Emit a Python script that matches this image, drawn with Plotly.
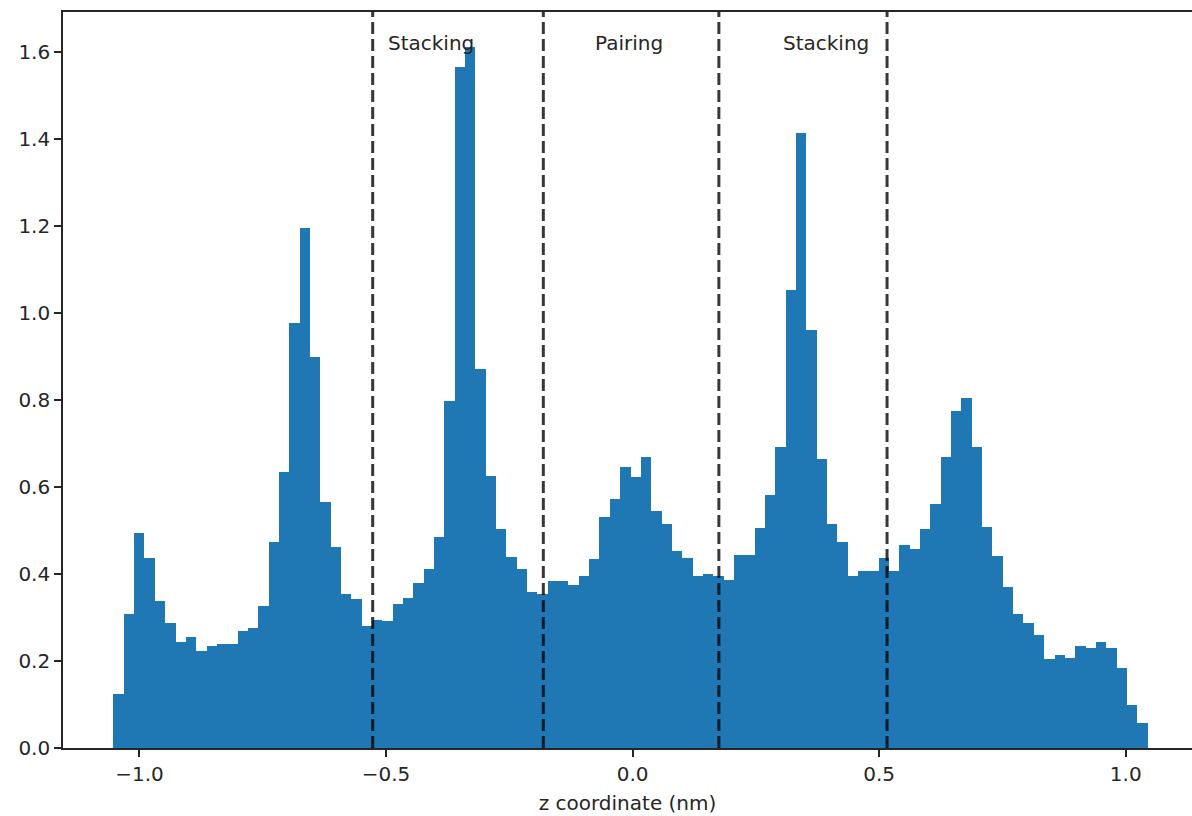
import numpy as np
import plotly.graph_objects as go

# Histogram data (density), 100 equal-width bins
bin_start = -1.0527
bin_width = 0.02097
density = [
    0.125, 0.307, 0.494, 0.437, 0.338, 0.287, 0.244, 0.255, 0.224, 0.234,
    0.240, 0.240, 0.270, 0.276, 0.327, 0.473, 0.634, 0.977, 1.196, 0.900,
    0.566, 0.463, 0.354, 0.343, 0.280, 0.295, 0.291, 0.332, 0.345, 0.379,
    0.411, 0.484, 0.797, 1.565, 1.612, 0.872, 0.625, 0.504, 0.438, 0.411,
    0.359, 0.354, 0.385, 0.385, 0.375, 0.396, 0.434, 0.531, 0.572, 0.645,
    0.624, 0.670, 0.546, 0.514, 0.452, 0.437, 0.395, 0.400, 0.396, 0.387,
    0.443, 0.443, 0.505, 0.582, 0.691, 1.054, 1.414, 0.962, 0.665, 0.514,
    0.474, 0.396, 0.406, 0.406, 0.437, 0.406, 0.467, 0.457, 0.503, 0.561,
    0.670, 0.775, 0.805, 0.691, 0.509, 0.441, 0.369, 0.307, 0.287, 0.260,
    0.204, 0.214, 0.208, 0.234, 0.229, 0.244, 0.229, 0.183, 0.099, 0.057,
]
boundaries = [-0.527, -0.181, 0.175, 0.516]
region_labels = ["Stacking", "Pairing", "Stacking"]
region_label_x = [-0.5, -0.08, 0.3]
label_y = 1.6

x_ticks = [-1.0, -0.5, 0.0, 0.5, 1.0]
x_ticktext = ["\u22121.0", "\u22120.5", "0.0", "0.5", "1.0"]
y_ticks = [0.0, 0.2, 0.4, 0.6, 0.8, 1.0, 1.2, 1.4, 1.6]
y_ticktext = ["0.0", "0.2", "0.4", "0.6", "0.8", "1.0", "1.2", "1.4", "1.6"]

centers = bin_start + bin_width * (np.arange(len(density)) + 0.5)

FONT = "DejaVu Sans"
FS = 20
AX = "#262626"

fig = go.Figure()
fig.add_trace(go.Bar(
    x=centers, y=density, width=bin_width,
    marker=dict(color="#1f77b4", line=dict(width=0)),
    hoverinfo="skip",
))

for b in boundaries:
    fig.add_shape(type="line", xref="x", yref="paper", x0=b, x1=b, y0=0, y1=1,
                  line=dict(color="rgba(0,0,0,0.78)", width=3, dash="12px,5px"),
                  layer="above")

for txt, tx in zip(region_labels, region_label_x):
    fig.add_annotation(x=tx, y=label_y, xref="x", yref="y", text=txt,
                       showarrow=False, xanchor="left", yanchor="bottom",
                       yshift=-5, font=dict(family=FONT, size=FS, color="#262626"))

fig.update_layout(
    width=1192, height=816,
    margin=dict(l=63, r=0, t=12, b=68),
    paper_bgcolor="white", plot_bgcolor="white",
    bargap=0, showlegend=False,
    font=dict(family=FONT, size=FS, color="#262626"),
)
fig.update_xaxes(
    range=[-1.155, 1.1344], tickvals=x_ticks, ticktext=x_ticktext,
    showgrid=False, zeroline=False,
    showline=True, linecolor=AX, linewidth=1.6, mirror=True,
    ticks="outside", ticklen=7, tickwidth=1.6, tickcolor=AX,
    tickfont=dict(family=FONT, size=FS, color="#262626"),
    title=dict(text="z coordinate (nm)", font=dict(family=FONT, size=FS), standoff=11),
)
fig.update_yaxes(
    range=[0, 1.692], tickvals=y_ticks, ticktext=y_ticktext,
    showgrid=False, zeroline=False,
    showline=True, linecolor=AX, linewidth=1.6,
    ticks="outside", ticklen=7, tickwidth=1.6, tickcolor=AX,
    tickfont=dict(family=FONT, size=FS, color="#262626"),
)

fig.write_html("out.html")
